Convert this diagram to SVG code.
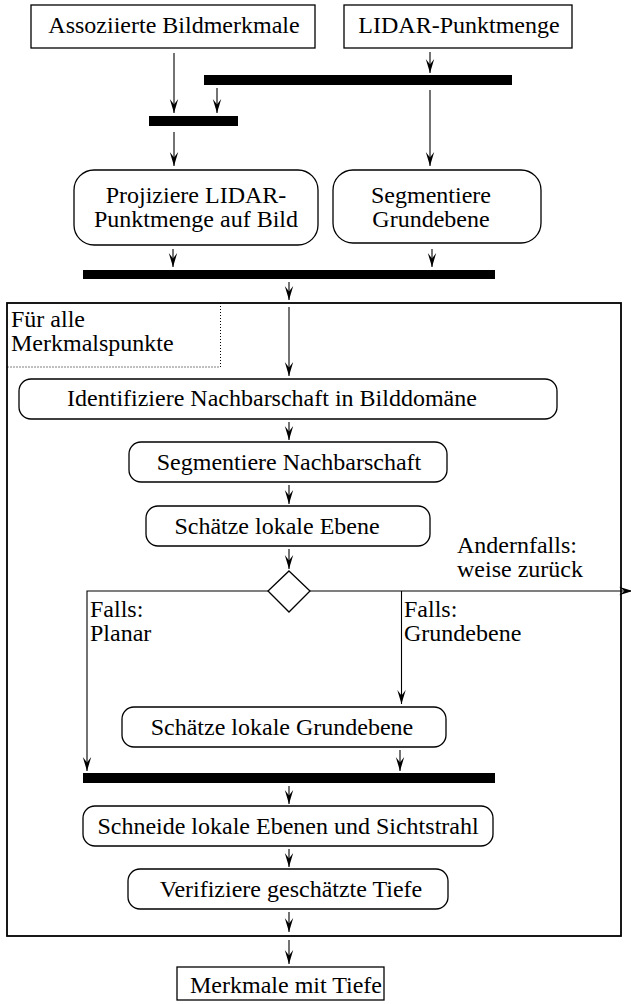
<svg xmlns="http://www.w3.org/2000/svg" width="631" height="1004" viewBox="0 0 631 1004">
<defs>
<style>
.m{text-anchor:middle}
.box{fill:#fff;stroke:#000;stroke-width:1.3}
.bar{fill:#000}
.c{fill:none;stroke:#000;stroke-width:1.1}
</style>
<marker id="ah" viewBox="-15 -6 17 12" refX="0" refY="0" markerWidth="17" markerHeight="12" markerUnits="userSpaceOnUse" orient="auto" overflow="visible">
<path d="M0,0 L-14,-4.2 L-8.5,0 L-14,4.2 Z" fill="#000"/>
</marker>
</defs>
<rect width="631" height="1004" fill="#fff"/>
<g font-family="'Liberation Serif', 'Times New Roman', serif" font-size="24" fill="#000">
<g id="frame">
<rect x="7" y="303" width="614" height="633" fill="none" stroke="#000" stroke-width="1.8"/>
<path d="M220.5,303 V367 H7" fill="none" stroke="#000" stroke-width="1" stroke-dasharray="1,2"/>
<text x="11" y="327">Für alle</text>
<text x="11" y="351">Merkmalspunkte</text>
</g>
<g id="n-assoz"><rect class="box" x="31" y="5" width="284" height="43"/><text class="m" x="174" y="33">Assoziierte Bildmerkmale</text></g>
<g id="n-lidar"><rect class="box" x="344" y="5" width="228" height="43"/><text class="m" x="459" y="33">LIDAR-Punktmenge</text></g>
<g id="bar1"><rect class="bar" x="204" y="75" width="308" height="10"/></g>
<g id="bar2"><rect class="bar" x="149" y="116" width="89" height="10"/></g>
<g id="n-proj"><rect class="box" x="74" y="170" width="244" height="75" rx="20"/><text class="m" x="196" y="203">Projiziere LIDAR-</text><text class="m" x="196" y="227">Punktmenge auf Bild</text></g>
<g id="n-seggrund"><rect class="box" x="333" y="170" width="208" height="73" rx="20"/><text class="m" x="431" y="203">Segmentiere</text><text class="m" x="431" y="227">Grundebene</text></g>
<g id="bar3"><rect class="bar" x="83" y="270" width="412" height="9"/></g>
<g id="n-ident"><rect class="box" x="19" y="379" width="538" height="40" rx="12"/><text class="m" x="272" y="406">Identifiziere Nachbarschaft in Bilddomäne</text></g>
<g id="n-segnach"><rect class="box" x="129" y="442" width="318" height="40" rx="12"/><text class="m" x="289" y="470">Segmentiere Nachbarschaft</text></g>
<g id="n-schaetze"><rect class="box" x="146" y="506" width="284" height="40" rx="12"/><text class="m" x="277" y="534">Schätze lokale Ebene</text></g>
<g id="n-decision"><polygon class="box" points="289,571 310,591 289,612 268,591"/></g>
<g id="n-grund"><rect class="box" x="122" y="707" width="324" height="40" rx="12"/><text class="m" x="282" y="735">Schätze lokale Grundebene</text></g>
<g id="bar4"><rect class="bar" x="83" y="773" width="412" height="10"/></g>
<g id="n-schneide"><rect class="box" x="83" y="806" width="410" height="40" rx="12"/><text class="m" x="288" y="834">Schneide lokale Ebenen und Sichtstrahl</text></g>
<g id="n-verif"><rect class="box" x="128" y="869" width="320" height="40" rx="12"/><text class="m" x="291" y="897">Verifiziere geschätzte Tiefe</text></g>
<g id="n-out"><rect class="box" x="177" y="967" width="207" height="33"/><text class="m" x="286" y="993">Merkmale mit Tiefe</text></g>
<g id="labels">
<text x="457" y="553">Andernfalls:</text>
<text x="457" y="577">weise zurück</text>
<text x="90" y="617">Falls:</text>
<text x="90" y="641">Planar</text>
<text x="404" y="617">Falls:</text>
<text x="404" y="641">Grundebene</text>
</g>
</g>
<g id="connectors">
<path class="c" d="M174,53 V113" marker-end="url(#ah)"/>
<path class="c" d="M430,52 V73" marker-end="url(#ah)"/>
<path class="c" d="M217,88 V113" marker-end="url(#ah)"/>
<path class="c" d="M430,90 V166" marker-end="url(#ah)"/>
<path class="c" d="M174,132 V166" marker-end="url(#ah)"/>
<path class="c" d="M173,249 V267" marker-end="url(#ah)"/>
<path class="c" d="M432,249 V267" marker-end="url(#ah)"/>
<path class="c" d="M289,282 V300" marker-end="url(#ah)"/>
<path class="c" d="M289,307 V376" marker-end="url(#ah)"/>
<path class="c" d="M289,422 V440" marker-end="url(#ah)"/>
<path class="c" d="M289,485 V504" marker-end="url(#ah)"/>
<path class="c" d="M289,549 V569" marker-end="url(#ah)"/>
<path class="c" d="M268,591 H87 V771" marker-end="url(#ah)"/>
<path class="c" d="M310,591 H633" marker-end="url(#ah)"/>
<path class="c" d="M401.5,591 V704" marker-end="url(#ah)"/>
<path class="c" d="M400,750 V771" marker-end="url(#ah)"/>
<path class="c" d="M289,786 V804" marker-end="url(#ah)"/>
<path class="c" d="M289,849 V867" marker-end="url(#ah)"/>
<path class="c" d="M289,912 V932" marker-end="url(#ah)"/>
<path class="c" d="M289,940 V964" marker-end="url(#ah)"/>
</g>
</svg>
